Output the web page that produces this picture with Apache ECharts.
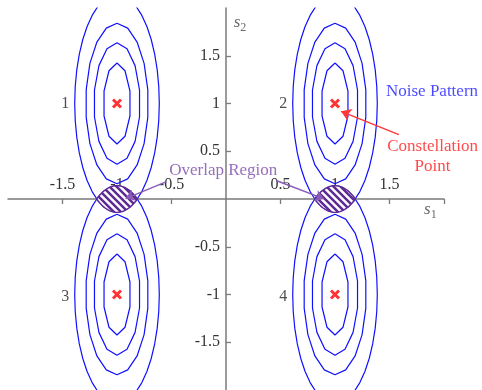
<!DOCTYPE html>
<html>
<head>
<meta charset="utf-8">
<script src="https://cdn.jsdelivr.net/npm/echarts@6/dist/echarts.min.js"></script>
<style>
  html, body { margin: 0; padding: 0; background: #fff; }
  #chart { width: 482px; height: 390px; }
</style>
</head>
<body>
<div id="chart"></div>
<script>
// Constellation points in the (s1, s2) plane and their numbers
const pointX = [-1, 1, -1, 1];
const pointY = [1, 1, -1, -1];
const pointNames = ['1', '2', '3', '4'];

// Noise contours around every point: half-width along s1, half-height along s2
const contourHalfW = [0.125, 0.212, 0.287, 0.388];
const contourHalfH = [0.424, 0.636, 0.84, 1.14];

// Axis ticks and their labels
const xTicks = [-1.5, -1, -0.5, 0.5, 1, 1.5];
const xTickLabels = ['-1.5', '-1', '-0.5', '0.5', '1', '1.5'];
const yTicks = [-1.5, -1, -0.5, 0.5, 1, 1.5];
const yTickLabels = ['-1.5', '-1', '-0.5', '0.5', '1', '1.5'];

// Annotation texts and their anchors (data coordinates)
const noteTexts = ['Noise Pattern', 'Constellation\nPoint', 'Overlap Region'];
const noteX = [1.89, 1.895, -0.025];
const noteY = [1.125, 0.447, 0.30];

// Arrows: [from, to] in data coordinates
const redArrow = [[1.586, 0.674], [1.055, 0.918]];
const overlapArrows = [
  [[-0.546, 0.182], [-0.921, 0.004]],
  [[0.46, 0.193], [0.899, 0.001]]
];

const SERIF = '"Liberation Serif", "DejaVu Serif", serif';
const BLUE = '#1010ff';
const RED = '#ff1a1a';
const PURPLE = '#7d48ad';
const HATCH = '#5e2a93';
const AXIS_GREY = '#7a7a7a';

// plot area and axis range
const GRID = { left: 8, right: 38, top: 8, bottom: 0 };
const RANGE = { min: -2, max: 2 };
const CHART_W = 482, CHART_H = 390;

// polygon segments per contour ring (coarse rings look angular)
const ringSegments = [10, 14, 18, 40];

function ellipse(cx, cy, a, b, n) {
  const pts = [];
  for (let i = 0; i <= n; i++) {
    const t = Math.PI / 2 + 2 * Math.PI * i / n;
    pts.push([cx + a * Math.cos(t), cy + b * Math.sin(t)]);
  }
  return pts;
}

// Lens where the outer rings of two vertically stacked points intersect
function lens(cx, yTop, yBottom) {
  const a = contourHalfW[contourHalfW.length - 1];
  const b = contourHalfH[contourHalfH.length - 1];
  const d = (yTop - yBottom) / 2;
  const w = a * Math.sqrt(1 - (d / b) * (d / b));
  const n = 24, pts = [];
  for (let i = 0; i <= n; i++) {           // upper arc: ring of lower point
    const dx = -w + 2 * w * i / n;
    pts.push([cx + dx, yBottom + b * Math.sqrt(Math.max(0, 1 - (dx / a) ** 2))]);
  }
  for (let i = n - 1; i > 0; i--) {        // lower arc: ring of upper point
    const dx = -w + 2 * w * i / n;
    pts.push([cx + dx, yTop - b * Math.sqrt(Math.max(0, 1 - (dx / a) ** 2))]);
  }
  return pts;
}

// Diagonal hatch tile
const T = 7;
const tile = document.createElement('canvas');
tile.width = T; tile.height = T;
const g = tile.getContext('2d');
g.fillStyle = '#ffffff';
g.fillRect(0, 0, T, T);
g.strokeStyle = HATCH;
g.lineWidth = 2.5;
g.beginPath();
g.moveTo(-1, -1); g.lineTo(T + 1, T + 1);
g.moveTo(-1, T - 1); g.lineTo(1, T + 1);
g.moveTo(T - 1, -1); g.lineTo(T + 1, 1);
g.stroke();
const hatchFill = { image: tile, repeat: 'repeat' };

const series = [];

// contour rings
pointX.forEach((cx, p) => {
  contourHalfW.forEach((a, r) => {
    series.push({
      type: 'line',
      data: ellipse(cx, pointY[p], a, contourHalfH[r], ringSegments[r]),
      showSymbol: false,
      symbol: 'none',
      smooth: false,
      clip: true,
      silent: true,
      z: 2,
      lineStyle: { color: BLUE, width: 1.2 },
      animation: false
    });
  });
});

// overlap lenses between points 1/3 and 2/4
const lensPairs = [[0, 2], [1, 3]];
series.push({
  type: 'custom',
  z: 3,
  data: lensPairs.map(([u, l]) => [pointX[u], pointY[u], pointY[l]]),
  renderItem: function (params, api) {
    const cx = api.value(0), yt = api.value(1), yb = api.value(2);
    const pts = lens(cx, yt, yb).map(p => api.coord(p));
    return {
      type: 'polygon',
      shape: { points: pts },
      style: { fill: hatchFill, stroke: HATCH, lineWidth: 1.4 }
    };
  },
  animation: false
});

// constellation crosses
series.push({
  type: 'scatter',
  z: 5,
  data: pointX.map((x, i) => [x, pointY[i]]),
  symbol: 'path://M0,0L10,10M10,0L0,10',
  symbolSize: 8,
  itemStyle: { color: 'rgba(0,0,0,0)', borderColor: '#ff0000', borderWidth: 3 },
  animation: false
});

// point numbers
series.push({
  type: 'scatter',
  z: 5,
  symbolSize: 0,
  data: pointX.map((x, i) => ({ value: [x - 0.475, pointY[i] - (pointY[i] < 0 ? 0.02 : 0)], name: pointNames[i] })),
  label: {
    show: true, position: 'inside', formatter: '{b}',
    color: '#222', fontFamily: SERIF, fontSize: 16
  },
  animation: false
});

// arrows
series.push({
  type: 'lines',
  coordinateSystem: 'cartesian2d',
  z: 6,
  data: [{ coords: redArrow }],
  symbol: ['none', 'arrow'],
  symbolSize: 10,
  lineStyle: { color: '#ff3838', width: 1.5, opacity: 1, curveness: 0 },
  animation: false
});
series.push({
  type: 'lines',
  coordinateSystem: 'cartesian2d',
  z: 6,
  data: overlapArrows.map(c => ({ coords: c })),
  symbol: ['none', 'arrow'],
  symbolSize: 9,
  lineStyle: { color: '#8a5cb8', width: 1.5, opacity: 1, curveness: 0 },
  animation: false
});

// annotation texts
const noteColors = ['#1a1aff', RED, PURPLE];
series.push({
  type: 'scatter',
  z: 7,
  symbolSize: 0,
  data: noteTexts.map((t, i) => ({
    value: [noteX[i], noteY[i]], name: t,
    label: { color: noteColors[i] }
  })),
  label: {
    show: true, position: 'inside', formatter: '{b}',
    fontFamily: SERIF, fontSize: 17, lineHeight: 20, align: 'center'
  },
  animation: false
});

// axis names s1 / s2
const axisNameRich = {
  i: { fontFamily: SERIF, fontStyle: 'italic', fontSize: 17, color: '#444', lineHeight: 22, verticalAlign: 'middle' },
  sub: { fontFamily: SERIF, fontSize: 12, color: '#444', lineHeight: 22, verticalAlign: 'bottom' }
};
series.push({
  type: 'scatter',
  z: 7,
  symbolSize: 0,
  data: [
    { value: [1.875, -0.115], name: '{i|s}{sub|1}' },
    { value: [0.128, 1.843], name: '{i|s}{sub|2}' }
  ],
  label: { show: true, position: 'inside', formatter: '{b}', rich: axisNameRich },
  animation: false
});

// axes cross at the origin: shift each axis from the grid edge to zero
const plotW = CHART_W - GRID.left - GRID.right;
const plotH = CHART_H - GRID.top - GRID.bottom;
const span = RANGE.max - RANGE.min;
const xAxisShift = -plotH * (0 - RANGE.min) / span;   // bottom edge up to s2 = 0
const yAxisShift = -plotW * (0 - RANGE.min) / span;   // left edge right to s1 = 0

const axisCommon = {
  type: 'value',
  min: RANGE.min, max: RANGE.max, interval: 0.5,
  splitLine: { show: false },
  axisLine: { show: true, onZero: false, lineStyle: { color: AXIS_GREY, width: 1.5 } }
};

const chart = echarts.init(document.getElementById('chart'), null, { renderer: 'canvas' });
chart.setOption({
  animation: false,
  backgroundColor: '#ffffff',
  grid: Object.assign({ containLabel: false, outerBoundsMode: 'none' }, GRID),
  xAxis: Object.assign({}, axisCommon, {
    position: 'bottom',
    offset: xAxisShift,
    axisTick: { show: true, inside: false, length: 5, customValues: xTicks.concat([2]), lineStyle: { color: AXIS_GREY, width: 1.3 } },
    axisLabel: {
      inside: true, margin: 6, customValues: xTicks,
      formatter: v => xTickLabels[xTicks.indexOf(v)] || '',
      color: '#333', fontFamily: SERIF, fontSize: 16
    }
  }),
  yAxis: Object.assign({}, axisCommon, {
    position: 'left',
    offset: yAxisShift,
    axisTick: { show: true, inside: true, length: 5, customValues: yTicks, lineStyle: { color: AXIS_GREY, width: 1.3 } },
    axisLabel: {
      inside: false, margin: 6, customValues: yTicks,
      formatter: v => yTickLabels[yTicks.indexOf(v)] || '',
      color: '#333', fontFamily: SERIF, fontSize: 16
    }
  }),
  series: series
});
</script>
</body>
</html>
